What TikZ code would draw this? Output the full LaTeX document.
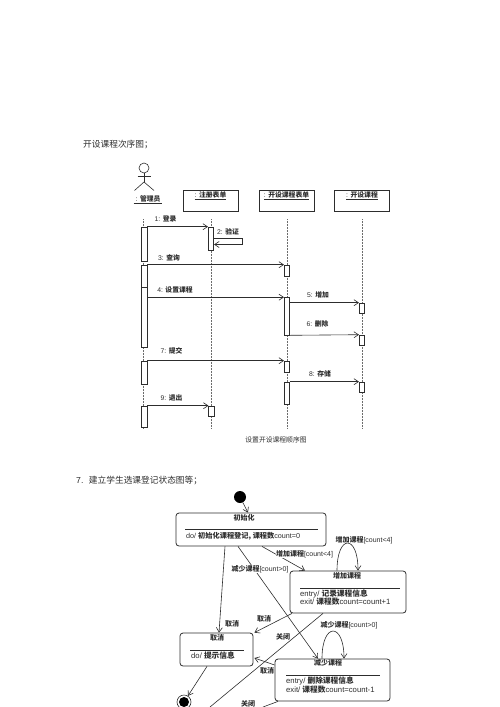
\documentclass[tikz,border=0pt]{standalone}
\usepackage{fontspec}
\setmainfont{Liberation Sans}
\newfontfamily\cjk{Noto Sans CJK SC}
\newcommand{\cn}[1]{{\cjk\bfseries #1}}
\definecolor{InkColor}{RGB}{45,45,45}
\usetikzlibrary{positioning, arrows.meta}

\tikzset{
  msg/.style={draw=InkColor, line width=0.6pt, -{Straight Barb[length=4.5pt,width=6pt]}},
  lifeline/.style={draw=InkColor!70, line width=0.5pt, densely dotted},
  actbar/.style={draw=InkColor, fill=white, line width=0.6pt, minimum width=5.5pt, inner sep=0pt},
  classbox/.style={draw=InkColor, line width=0.8pt, minimum width=55pt, minimum height=21pt, inner sep=0pt},
  statebox/.style={draw=InkColor, line width=0.8pt, rounded corners=3pt, inner sep=0pt},
  seqlabel/.style={inner sep=0pt, font=\fontsize{6.8}{8}\selectfont, text=InkColor},
  statelabel/.style={inner sep=0pt, font=\fontsize{7}{8}\selectfont, text=InkColor},
  statetext/.style={inner sep=0pt, anchor=west, font=\fontsize{7.7}{9}\selectfont, text=InkColor},
  heading/.style={inner sep=0pt, anchor=west, font=\fontsize{8.7}{10}\selectfont, text=InkColor},
  divider/.style={draw=InkColor, line width=0.6pt}
}

\begin{document}
\begin{tikzpicture}[x=1pt, y=-1pt]
  \useasboundingbox (0,0) rectangle (500,707);
  \clip (0,0) rectangle (500,707);

  \node[heading] (seqtitle) at (83,145) {\cjk 开设课程次序图；};

  % actor
  \node[circle, draw=InkColor, line width=0.6pt, minimum size=10pt, inner sep=0pt] (head) at (144,168) {};
  \coordinate (hip) at (144,182);
  \coordinate (armL) at (137.5,176);
  \coordinate (armR) at (150.5,176);
  \coordinate (footL) at (134.5,190.5);
  \coordinate (footR) at (154,190.5);
  \draw[divider] (head.south) -- (hip);
  \draw[divider] (armL) -- (armR);
  \draw[divider] (footL) -- (hip) -- (footR);
  \node[seqlabel] (actorname) at (148,199.5) {\underline{\ : \cn{管理员}\ }};

  % objects
  \node[classbox] (formA) at (210.5,200.5) {};
  \node[classbox] (formB) at (286.5,200.5) {};
  \node[classbox] (course) at (362,200.5) {};
  \node[seqlabel] (formAname) at (210.5,195.5) {\underline{: \cn{注册表单}}};
  \node[seqlabel] (formBname) at (286.5,195.5) {\underline{: \cn{开设课程表单}}};
  \node[seqlabel] (coursename) at (362,195.5) {\underline{: \cn{开设课程}}};

  \foreach \nm/\xx in {actor/143, formA/211, formB/287, course/362.7}{
    \coordinate (\nm top) at (\xx,219);
    \coordinate (\nm end) at (\xx,428);
    \draw[lifeline] (\nm top) -- (\nm end);
  }

  % activation bars
  \foreach \nm/\xx/\ya/\yb in {a1/144.2/227/261, a2/144.2/265/347, a3/144.2/361/384, a4/144.2/406/427,
      b1/211/227/250, b2/211.5/406/416,
      c1/287/265/276, c2/287/297.5/335, c3/287/361/372, c4/287/382/404,
      d1/362/303/313.5, d2/362/335/345, d3/362/382/392}{
    \node[actbar, minimum height={(\yb-\ya)*1pt}] (\nm) at (\xx,{(\ya+\yb)/2}) {};
  }
  \coordinate (tickL) at (141.5,287);
  \draw[divider] (tickL) -- (tickL -| a2.east);

  % messages
  \draw[msg] (a1.north east) -- (b1.north west);
  \coordinate (selfA) at (242,238.5);
  \coordinate (selfB) at (242,244.5);
  \draw[msg] (selfA -| b1.east) -- (selfA) -- (selfB) -- (selfB -| b1.east);
  \draw[msg] (a2.north east) -- (c1.north west);
  \draw[msg] (c2.north west -| a2.east) -- (c2.north west);
  \draw[msg] (d1.north west -| c2.east) -- (d1.north west);
  \draw[msg] (c2.south east) -- (d2.north west);
  \draw[msg] (a3.north east) -- (c3.north west);
  \draw[msg] (c4.north east) -- (d3.north west);
  \draw[msg] (a4.north east) -- (b2.north west);

  \node[seqlabel] (m1) at (165.5,219) {1: \cn{登录}};
  \node[seqlabel] (m2) at (228,231.5) {2: \cn{验证}};
  \node[seqlabel] (m3) at (169,258) {3: \cn{查询}};
  \node[seqlabel] (m4) at (175,290) {4: \cn{设置课程}};
  \node[seqlabel] (m5) at (318,295) {5: \cn{增加}};
  \node[seqlabel] (m6) at (317.5,324) {6: \cn{删除}};
  \node[seqlabel] (m7) at (171.5,351) {7: \cn{提交}};
  \node[seqlabel] (m8) at (320,374) {8: \cn{存储}};
  \node[seqlabel] (m9) at (171.5,398) {9: \cn{退出}};
  \node[seqlabel] (seqcaption) at (276,440) {\cjk 设置开设课程顺序图};

  \node[heading] (statetitle) at (76,481) {7.\hspace{5.5pt}\cjk 建立学生选课登记状态图等；};

  % states
  \node[circle, fill=black, minimum size=12pt, inner sep=0pt] (start) at (240,497) {};
  \node[statebox, minimum width=150pt, minimum height=33pt] (init) at (251,529.5) {};
  \node[statebox, minimum width=116pt, minimum height=42pt] (add) at (348,592) {};
  \node[statebox, minimum width=73pt, minimum height=33pt] (cancel) at (216.5,649.5) {};
  \node[statebox, minimum width=115pt, minimum height=42pt] (del) at (332.5,680) {};
  \node[circle, draw=InkColor, fill=white, line width=0.6pt, minimum size=14pt, inner sep=0pt] (final) at (184,702) {};
  \node[circle, fill=black, minimum size=10pt, inner sep=0pt] (finaldot) at (final) {};

  \node[statelabel] (initname) at (244,518) {\cn{初始化}};
  \draw[divider] (185,529) -- (318,529);
  \node[statetext, font=\fontsize{7.2}{9}\selectfont] (initdo) at (186,536) {do/ \cn{初始化课程登记, 课程数}count=0};

  \node[statelabel] (addname) at (347,576) {\cn{增加课程}};
  \draw[divider] (300,588) -- (400,588);
  \node[statetext] (addin) at (300,593.5) {entry/ \cn{记录课程信息}};
  \node[statetext] (addout) at (300,602) {exit/ \cn{课程数}count=count+1};

  \node[statelabel] (cancelname) at (217,638) {\cn{取消}};
  \draw[divider] (190,650) -- (244,650);
  \node[statetext] (canceldo) at (191,656) {do/ \cn{提示信息}};

  \node[statelabel] (delname) at (328,663) {\cn{减少课程}};
  \draw[divider] (286,675) -- (380,675);
  \node[statetext] (delin) at (286,681) {entry/ \cn{删除课程信息}};
  \node[statetext] (delout) at (286,690) {exit/ \cn{课程数}count=count-1};

  % transitions
  \coordinate (offA) at (210,707);
  \coordinate (offB) at (263,707);
  \draw[msg] (start) -- ([xshift=-3pt]init.north);
  \draw[msg] ([xshift=11pt]init.south) -- ([xshift=-43pt]add.north);
  \draw[msg] ([xshift=-26pt]init.south) -- ([xshift=2.5pt]cancel.north);
  \draw[msg] ([xshift=-13pt]init.south) -- ([xshift=-14.5pt]del.north);
  \draw[msg] ([xshift=-56pt]add.south) -- ([xshift=1pt]cancel.north east);
  \draw[divider] ([xshift=-25pt]add.south) -- (offA);
  \draw[msg] ([yshift=15pt]del.west) -- ([yshift=-8.5pt,xshift=1pt]cancel.east);
  \draw[divider] ([xshift=-54.5pt]del.south) -- (offB);
  \draw[msg] ([xshift=-9.5pt]cancel.south) -- (final);
  \draw[msg] ([xshift=-11pt]add.north) .. controls (337,534) and (358,534) .. ([xshift=10pt]add.north);
  \draw[msg] ([xshift=-10.5pt]del.north) .. controls (322,622) and (344,622) .. ([xshift=11.5pt]del.north);

  \node[statelabel, fill=white, inner xsep=0.5pt] (t1) at (304.5,554) {\cn{增加课程}[count<4]};
  \node[statelabel] (t2) at (364,540) {\cn{增加课程}[count<4]};
  \node[statelabel, fill=white, inner xsep=0.5pt] (t3) at (260,569) {\cn{减少课程}[count>0]};
  \node[statelabel] (t4) at (232,624) {\cn{取消}};
  \node[statelabel] (t5) at (264,619) {\cn{取消}};
  \node[statelabel] (t6) at (283,637) {\cn{关闭}};
  \node[statelabel] (t7) at (349,625) {\cn{减少课程}[count>0]};
  \node[statelabel] (t8) at (267,671) {\cn{取消}};
  \node[statelabel] (t9) at (248,704) {\cn{关闭}};
\end{tikzpicture}
\end{document}
